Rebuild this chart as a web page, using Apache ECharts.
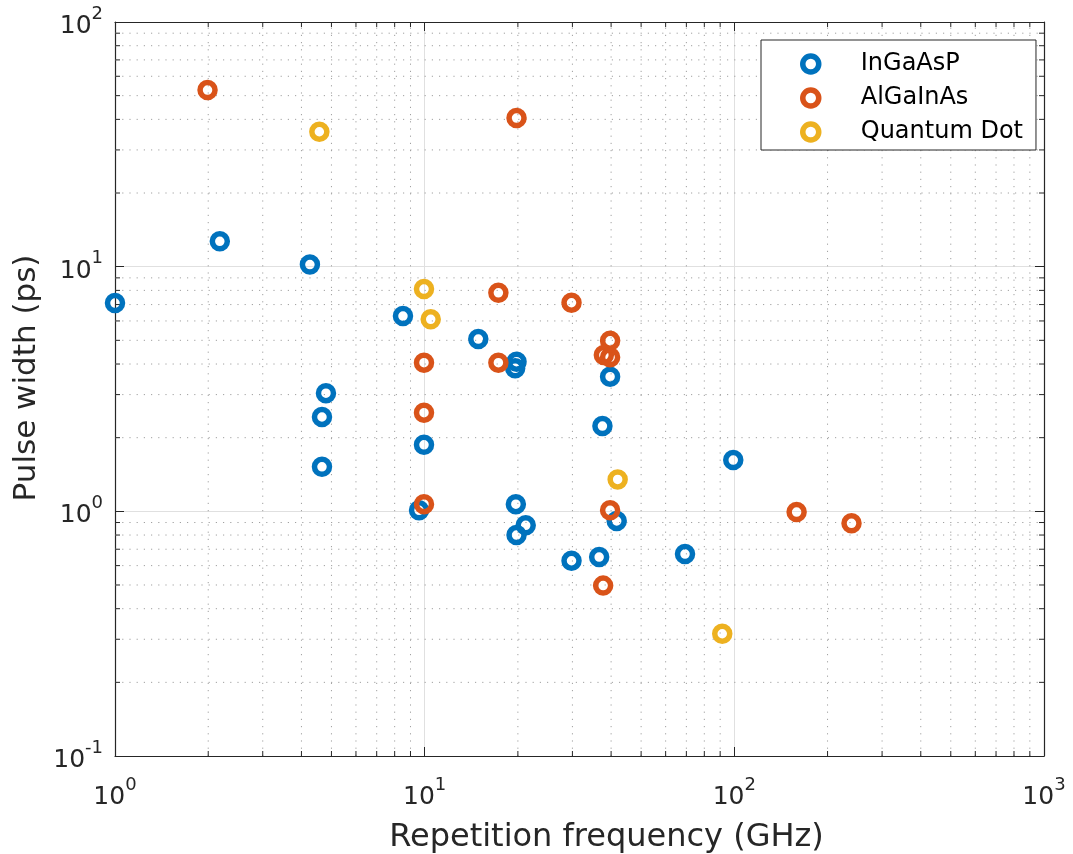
<!DOCTYPE html>
<html>
<head>
<meta charset="utf-8">
<script src="https://cdn.jsdelivr.net/npm/echarts@6/dist/echarts.min.js"></script>
<style>
html,body{margin:0;padding:0;background:#fff;}
#chart{width:1073px;height:854px;}
</style>
</head>
<body>
<div id="chart"></div>
<script>
// ---- data ----
const seriesNames = ['InGaAsP', 'AlGaInAs', 'Quantum Dot'];
const inGaAsP_x = [1.0, 2.18, 4.26, 8.51, 4.8, 4.66, 4.66, 9.95, 9.59, 14.9, 19.8, 19.6, 39.7, 37.5, 19.7, 21.2, 19.8, 41.7, 29.8, 36.6, 69.3, 99.2];
const inGaAsP_y = [7.1, 12.7, 10.2, 6.28, 3.04, 2.43, 1.52, 1.87, 1.01, 5.06, 4.09, 3.84, 3.55, 2.23, 1.07, 0.877, 0.80, 0.913, 0.628, 0.65, 0.669, 1.62];
const alGaInAs_x = [1.99, 19.8, 17.3, 29.8, 39.7, 37.9, 39.7, 9.95, 17.3, 9.95, 9.95, 39.7, 37.7, 158.9, 239];
const alGaInAs_y = [52.7, 40.5, 7.82, 7.12, 4.98, 4.35, 4.26, 4.05, 4.05, 2.53, 1.07, 1.01, 0.497, 0.993, 0.893];
const qd_x = [4.57, 9.95, 10.46, 42.0, 91.4];
const qd_y = [35.6, 8.1, 6.09, 1.35, 0.316];

// ---- axis ticks ----
const xMin = 1, xMax = 1000, yMin = 0.1, yMax = 100;
const xMinorTicks = [2,3,4,5,6,7,8,9, 20,30,40,50,60,70,80,90, 200,300,400,500,600,700,800,900];
const yMinorTicks = [0.2,0.3,0.4,0.5,0.6,0.7,0.8,0.9, 2,3,4,5,6,7,8,9, 20,30,40,50,60,70,80,90];

const colors = ['#0072BD', '#D95319', '#EDB120'];
const FONT = 'DejaVu Sans';
const AXIS_COLOR = '#262626';

function zip(xs, ys) { return xs.map((x, i) => [x, ys[i]]); }

function expLabel(v) {
  const e = Math.round(Math.log10(v));
  return '{b|10}{s|' + e + '}';
}
const richLabel = {
  b: { fontFamily: FONT, fontSize: 25, color: AXIS_COLOR, lineHeight: 34, verticalAlign: 'bottom' },
  s: { fontFamily: FONT, fontSize: 18, color: AXIS_COLOR, lineHeight: 18, verticalAlign: 'top' }
};

const chart = echarts.init(document.getElementById('chart'), null, { renderer: 'canvas' });

function scatterSeries(name, data, color) {
  return {
    name: name,
    type: 'scatter',
    data: data,
    symbol: 'circle',
    symbolSize: 15,
    clip: false,
    z: 5,
    itemStyle: { color: 'rgba(255,255,255,0)', borderColor: color, borderWidth: 5.5, opacity: 1 },
    emphasis: { disabled: true }
  };
}

// Minor grid lines + minor ticks drawn through the axis scales
const minorXSeries = {
  type: 'custom',
  silent: true,
  z: 1,
  clip: false,
  data: xMinorTicks.map(v => [v, yMin]),
  renderItem: function (params, api) {
    const v = api.value(0);
    const p0 = api.coord([v, yMin]);
    const p1 = api.coord([v, yMax]);
    return {
      type: 'group',
      children: [
        { type: 'line', shape: { x1: p0[0], y1: p0[1], x2: p1[0], y2: p1[1] },
          style: { stroke: '#a0a0a0', lineWidth: 1, lineDash: [1.2, 6] } },
        { type: 'line', shape: { x1: p0[0], y1: p0[1], x2: p0[0], y2: p0[1] - 5 },
          style: { stroke: AXIS_COLOR, lineWidth: 1 } },
        { type: 'line', shape: { x1: p1[0], y1: p1[1], x2: p1[0], y2: p1[1] + 5 },
          style: { stroke: AXIS_COLOR, lineWidth: 1 } }
      ]
    };
  }
};
const minorYSeries = {
  type: 'custom',
  silent: true,
  z: 1,
  clip: false,
  data: yMinorTicks.map(v => [xMin, v]),
  renderItem: function (params, api) {
    const v = api.value(1);
    const p0 = api.coord([xMin, v]);
    const p1 = api.coord([xMax, v]);
    return {
      type: 'group',
      children: [
        { type: 'line', shape: { x1: p0[0], y1: p0[1], x2: p1[0], y2: p1[1] },
          style: { stroke: '#a0a0a0', lineWidth: 1, lineDash: [1.2, 6] } },
        { type: 'line', shape: { x1: p0[0], y1: p0[1], x2: p0[0] + 5, y2: p0[1] },
          style: { stroke: AXIS_COLOR, lineWidth: 1 } },
        { type: 'line', shape: { x1: p1[0], y1: p1[1], x2: p1[0] - 5, y2: p1[1] },
          style: { stroke: AXIS_COLOR, lineWidth: 1 } }
      ]
    };
  }
};

const option = {
  backgroundColor: '#ffffff',
  animation: false,
  grid: { left: 115, right: 29, top: 22, bottom: 98, containLabel: false, outerBoundsMode: 'none' },
  legend: {
    show: true,
    orient: 'vertical',
    left: 761,
    top: 40,
    padding: [12, 13, 6, 39],
    itemGap: 10,
    itemWidth: 90,
    itemHeight: 16,
    backgroundColor: '#ffffff',
    borderColor: AXIS_COLOR,
    borderWidth: 1,
    borderRadius: 0,
    selectedMode: false,
    textStyle: { fontFamily: FONT, fontSize: 24, color: '#000000', lineHeight: 20 },
    data: seriesNames.map((n, i) => ({
      name: n,
      icon: 'circle',
      itemStyle: { color: 'rgba(255,255,255,0)', borderColor: colors[i], borderWidth: 5.5 }
    }))
  },
  xAxis: [
    {
      type: 'log', logBase: 10, min: xMin, max: xMax,
      name: 'Repetition frequency (GHz)',
      nameLocation: 'middle', nameGap: 66,
      nameTextStyle: { fontFamily: FONT, fontSize: 32, color: AXIS_COLOR, padding: [0, 0, 0, 54] },
      axisLine: { show: true, onZero: false, lineStyle: { color: AXIS_COLOR, width: 1.2 } },
      axisTick: { show: true, inside: true, length: 9, lineStyle: { color: AXIS_COLOR, width: 1 } },
      axisLabel: { show: true, margin: 20, formatter: expLabel, rich: richLabel },
      splitLine: { show: true, lineStyle: { color: '#e0e0e0', width: 1 } },
      minorTick: { show: false }, minorSplitLine: { show: false }
    },
    {
      type: 'log', logBase: 10, min: xMin, max: xMax, position: 'top',
      axisLine: { show: true, onZero: false, lineStyle: { color: AXIS_COLOR, width: 1.2 } },
      axisTick: { show: true, inside: true, length: 9, lineStyle: { color: AXIS_COLOR, width: 1 } },
      axisLabel: { show: false }, splitLine: { show: false }
    }
  ],
  yAxis: [
    {
      type: 'log', logBase: 10, min: yMin, max: yMax,
      name: 'Pulse width (ps)',
      nameLocation: 'middle', nameGap: 68, nameRotate: 90,
      nameTextStyle: { fontFamily: FONT, fontSize: 31, color: AXIS_COLOR, padding: [0, 0, 0, 22] },
      axisLine: { show: true, onZero: false, lineStyle: { color: AXIS_COLOR, width: 1.2 } },
      axisTick: { show: true, inside: true, length: 9, lineStyle: { color: AXIS_COLOR, width: 1 } },
      axisLabel: { show: true, margin: 12, formatter: expLabel, rich: richLabel },
      splitLine: { show: true, lineStyle: { color: '#e0e0e0', width: 1 } },
      minorTick: { show: false }, minorSplitLine: { show: false }
    },
    {
      type: 'log', logBase: 10, min: yMin, max: yMax, position: 'right',
      axisLine: { show: true, onZero: false, lineStyle: { color: AXIS_COLOR, width: 1.2 } },
      axisTick: { show: true, inside: true, length: 9, lineStyle: { color: AXIS_COLOR, width: 1 } },
      axisLabel: { show: false }, splitLine: { show: false }
    }
  ],
  series: [
    minorXSeries,
    minorYSeries,
    scatterSeries(seriesNames[0], zip(inGaAsP_x, inGaAsP_y), colors[0]),
    scatterSeries(seriesNames[1], zip(alGaInAs_x, alGaInAs_y), colors[1]),
    scatterSeries(seriesNames[2], zip(qd_x, qd_y), colors[2])
  ]
};
chart.setOption(option);
</script>
</body>
</html>
